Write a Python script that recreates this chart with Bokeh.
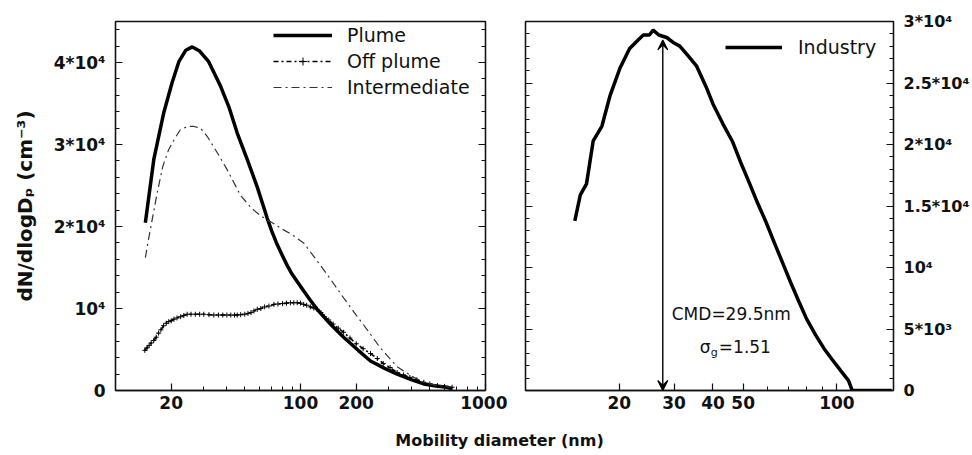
from bokeh.plotting import figure
from bokeh.models import (LinearAxis, FixedTicker, Legend, LegendItem, Arrow,
                          VeeHead, Label, Range1d)
from bokeh.layouts import row, column
from bokeh.embed import file_html
from bokeh.resources import INLINE

FONT = "DejaVu Sans"

# ---------------- data (left panel) ----------------
plume_d = [14.5, 16.1, 18.2, 20.2, 22.0, 24.0, 26.0, 28.5, 31.9, 37.0, 41.0, 45.5,
           51.5, 58.4, 66.1, 70.0, 74.8, 80.0, 85.0, 90.0, 95.9, 100, 106, 113, 123,
           145, 171, 205, 239, 285, 333, 400, 464, 540, 621, 660]
plume_v = [20450, 28150, 33800, 37500, 40100, 41500, 41900, 41400, 40100, 37100,
           34600, 31400, 28200, 24800, 21000, 19400, 17800, 16400, 15200, 14200,
           13300, 12700, 11900, 11000, 9900, 8100, 6500, 4900, 3600, 2700, 2000,
           1300, 800, 550, 400, 200]

off_d = [14.4, 14.8, 15.2, 15.6, 16.1, 16.6, 17.1, 17.6, 18.2, 18.8, 19.4, 20.0,
         20.7, 21.5, 22.5, 23.4, 24.4, 25.6, 27.0, 28.5, 30.0, 32.0, 34.0, 36.0,
         38.0, 40.0, 42.0, 44.0, 45.5, 47.5, 50.0, 52.0, 54.0, 56.0, 58.4, 61.0,
         64.0, 67.5, 71.8, 75.5, 80.0, 84.0, 88.2, 92.0, 96.0, 100, 104, 108, 113,
         118, 123, 129, 135, 142, 150, 160, 171, 185, 200, 218, 239, 260, 280, 305,
         333, 360, 390, 425, 464, 500, 550, 600, 660]
off_v = [4900, 5200, 5500, 5800, 6100, 6500, 7000, 7400, 7900, 8200, 8400, 8500,
         8700, 8850, 9000, 9150, 9300, 9300, 9300, 9300, 9300, 9250, 9200, 9200,
         9200, 9200, 9200, 9200, 9200, 9250, 9300, 9400, 9500, 9700, 9900, 10000,
         10200, 10300, 10500, 10550, 10600, 10650, 10700, 10700, 10700, 10650,
         10500, 10400, 10200, 10050, 9900, 9500, 9000, 8600, 8100, 7600, 7100,
         6400, 5700, 5100, 4500, 3900, 3300, 2800, 2200, 1900, 1600, 1300, 1000,
         800, 600, 500, 400]

int_d = [14.5, 15.1, 16.8, 18.0, 19.4, 21.0, 22.4, 24.5, 26.5, 28.8, 31.3, 35.5,
         40.2, 47.4, 54.0, 60.8, 70.0, 78.0, 90.0, 104, 123, 145, 171, 200, 240,
         270, 333, 410, 464, 550, 645]
int_v = [16200, 18500, 24100, 27300, 29400, 30800, 31800, 32200, 32200, 32000,
         31000, 29000, 26900, 23800, 22300, 21300, 20500, 19800, 19000, 18000,
         15800, 13600, 11300, 9200, 6800, 5200, 2900, 1600, 1000, 600, 400]

# ---------------- data (right panel) ----------------
ind_d = [14.4, 15.0, 15.7, 16.5, 17.6, 18.7, 20.1, 21.6, 23.0, 23.9, 25.0, 25.7,
         26.8, 28.4, 29.8, 31.3, 33.3, 35.4, 38.0, 40.0, 43.0, 46.3, 49.0, 52.3,
         55.5, 59.2, 63.0, 66.9, 71.0, 75.6, 80.0, 85.5, 91.0, 96.7, 103, 109,
         112, 120, 135, 150]
ind_v = [13800, 15900, 16800, 20300, 21500, 24000, 26200, 27800, 28500, 28900,
         28900, 29300, 28900, 28700, 28300, 28000, 27200, 26400, 24700, 23300,
         21700, 20200, 18600, 16900, 15300, 13700, 12000, 10400, 8800, 7200, 5800,
         4500, 3400, 2500, 1600, 800, 0, 0, 0, 0]

# ---------------- ticks / labels ----------------
left_x_ticks = [20, 100, 200, 1000]
left_x_minor = [30, 40, 50, 60, 70, 80, 90, 300, 400, 500, 600, 700, 800, 900]
left_y_ticks = [0, 10000, 20000, 30000, 40000]
left_y_labels = ["0", "10⁴", "2*10⁴", "3*10⁴", "4*10⁴"]
left_y_minor = [2000 * i for i in range(23)]

right_x_ticks = [20, 30, 40, 50, 100]
right_x_minor = [60, 70, 80, 90]
right_y_ticks = [0, 5000, 10000, 15000, 20000, 25000, 30000]
right_y_labels = ["0", "5*10³", "10⁴", "1.5*10⁴", "2*10⁴", "2.5*10⁴", "3*10⁴"]
right_y_minor = [1000 * i for i in range(31)]

cmd_text = "CMD=29.5nm"
sigma_value = "=1.51"
arrow_x = 27.6
arrow_top = 28500


def style_axis(ax, size="17px", show=True, bold=True):
    ax.major_tick_in = 7
    ax.major_tick_out = 0
    ax.minor_tick_in = 4
    ax.minor_tick_out = 0
    ax.axis_line_color = "#111111"
    ax.axis_line_width = 1.3
    ax.major_tick_line_color = "#111111"
    ax.minor_tick_line_color = "#111111"
    ax.major_tick_line_width = 1.2
    ax.minor_tick_line_width = 1.0
    ax.major_label_text_font = FONT
    ax.major_label_text_font_size = size
    ax.major_label_text_font_style = "bold" if bold else "normal"
    ax.major_label_text_color = "#111111"
    if not show:
        ax.major_label_text_font_size = "0px"


# ================= left panel =================
p1 = figure(width=507, height=420, x_axis_type="log",
            x_range=Range1d(10, 1000), y_range=Range1d(0, 45000),
            output_backend="svg", toolbar_location=None,
            min_border_left=115, min_border_right=22,
            min_border_top=21, min_border_bottom=30)
p1.xgrid.visible = False
p1.ygrid.visible = False
p1.outline_line_color = "#111111"
p1.outline_line_width = 1.3

xa = p1.xaxis[0]
xa.ticker = FixedTicker(ticks=left_x_ticks, minor_ticks=left_x_minor)
xa.major_label_overrides = {t: str(t) for t in left_x_ticks}
style_axis(xa)
xa.major_label_standoff = 5

ya = p1.yaxis[0]
ya.ticker = FixedTicker(ticks=left_y_ticks, minor_ticks=left_y_minor)
ya.major_label_overrides = dict(zip(left_y_ticks, left_y_labels))
style_axis(ya)
ya.major_label_standoff = 10
ya.axis_label = "dN/dlogDₚ (cm⁻³)"
ya.axis_label_text_font = FONT
ya.axis_label_text_font_style = "bold"
ya.axis_label_text_font_size = "20px"
ya.axis_label_text_color = "#111111"
ya.axis_label_standoff = 14

ya2 = LinearAxis(ticker=FixedTicker(ticks=left_y_ticks, minor_ticks=left_y_minor))
style_axis(ya2, show=False)
ya2.major_label_overrides = {t: "" for t in left_y_ticks}
p1.add_layout(ya2, "right")

r_plume = p1.line(plume_d, plume_v, line_width=3.5, color="black")
r_off_line = p1.line(off_d, off_v, line_width=1.6, color="black",
                     line_dash="5 3 2 3")
r_off_pts = p1.scatter(off_d, off_v, marker="cross", size=5, color="black",
                       line_width=1.0)
r_int = p1.line(int_d, int_v, line_width=1.2, color="#333333",
                line_dash="8 4 2 4")

leg1 = Legend(items=[LegendItem(label="Plume", renderers=[r_plume]),
                     LegendItem(label="Off plume", renderers=[r_off_line, r_off_pts]),
                     LegendItem(label="Intermediate", renderers=[r_int])],
              location=(158, 292))
leg1.border_line_color = None
leg1.background_fill_alpha = 0
leg1.padding = 0
leg1.margin = 0
leg1.spacing = 4
leg1.glyph_width = 59
leg1.glyph_height = 20
leg1.label_height = 20
leg1.label_standoff = 15
leg1.label_text_font = FONT
leg1.label_text_font_size = "19px"
leg1.label_text_color = "#111111"
p1.add_layout(leg1)

# ================= right panel =================
p2 = figure(width=465, height=420, x_axis_type="log",
            x_range=Range1d(10, 152), y_range=Range1d(0, 30000),
            y_axis_location="right",
            output_backend="svg", toolbar_location=None,
            min_border_left=18, min_border_right=77,
            min_border_top=21, min_border_bottom=30)
p2.xgrid.visible = False
p2.ygrid.visible = False
p2.outline_line_color = "#111111"
p2.outline_line_width = 1.3

xb = p2.xaxis[0]
xb.ticker = FixedTicker(ticks=right_x_ticks, minor_ticks=right_x_minor)
xb.major_label_overrides = {t: str(t) for t in right_x_ticks}
style_axis(xb)
xb.major_label_standoff = 5

yb = p2.yaxis[0]
yb.ticker = FixedTicker(ticks=right_y_ticks, minor_ticks=right_y_minor)
yb.major_label_overrides = dict(zip(right_y_ticks, right_y_labels))
style_axis(yb, size="16px")
yb.major_label_standoff = 10

yb2 = LinearAxis(ticker=FixedTicker(ticks=right_y_ticks, minor_ticks=right_y_minor))
style_axis(yb2, show=False)
yb2.major_label_overrides = {t: "" for t in right_y_ticks}
p2.add_layout(yb2, "left")

r_ind = p2.line(ind_d, ind_v, line_width=3.5, color="black")

leg2 = Legend(items=[LegendItem(label="Industry", renderers=[r_ind])],
              location=(200, 332))
leg2.border_line_color = None
leg2.background_fill_alpha = 0
leg2.padding = 0
leg2.margin = 0
leg2.glyph_width = 57
leg2.glyph_height = 20
leg2.label_height = 20
leg2.label_standoff = 16
leg2.label_text_font = FONT
leg2.label_text_font_size = "19px"
leg2.label_text_color = "#111111"
p2.add_layout(leg2)

p2.add_layout(Arrow(start=VeeHead(size=10, line_width=1.2, fill_color="black"),
                    end=VeeHead(size=10, line_width=1.2, fill_color="black"),
                    x_start=arrow_x, y_start=0, x_end=arrow_x, y_end=arrow_top,
                    line_width=1.4, line_color="black"))

p2.add_layout(Label(x=45.8, y=6260, text=cmd_text, text_align="center",
                    text_baseline="middle", text_font=FONT,
                    text_font_size="17px", text_color="#111111"))
p2.add_layout(Label(x=36.3, y=3500, text="σ", text_align="left",
                    text_baseline="middle", text_font=FONT,
                    text_font_size="17px", text_color="#111111"))
p2.add_layout(Label(x=36.3, y=3500, x_offset=11, y_offset=-5, text="g",
                    text_align="left", text_baseline="middle", text_font=FONT,
                    text_font_size="11px", text_color="#111111"))
p2.add_layout(Label(x=36.3, y=3500, x_offset=19, text=sigma_value,
                    text_align="left", text_baseline="middle", text_font=FONT,
                    text_font_size="17px", text_color="#111111"))

# ================= common x-label =================
p3 = figure(width=972, height=35, x_range=Range1d(0, 972), y_range=Range1d(0, 35),
            x_axis_location=None, y_axis_location=None,
            output_backend="svg", toolbar_location=None, min_border=0)
p3.xgrid.visible = False
p3.ygrid.visible = False
p3.outline_line_color = None
p3.add_layout(Label(x=499, y=15, text="Mobility diameter (nm)", text_align="center",
                    text_baseline="middle", text_font=FONT, text_font_style="bold",
                    text_font_size="16px", text_color="#111111"))

layout = column(row(p1, p2), p3)
open("out.html", "w").write(file_html(layout, INLINE))
